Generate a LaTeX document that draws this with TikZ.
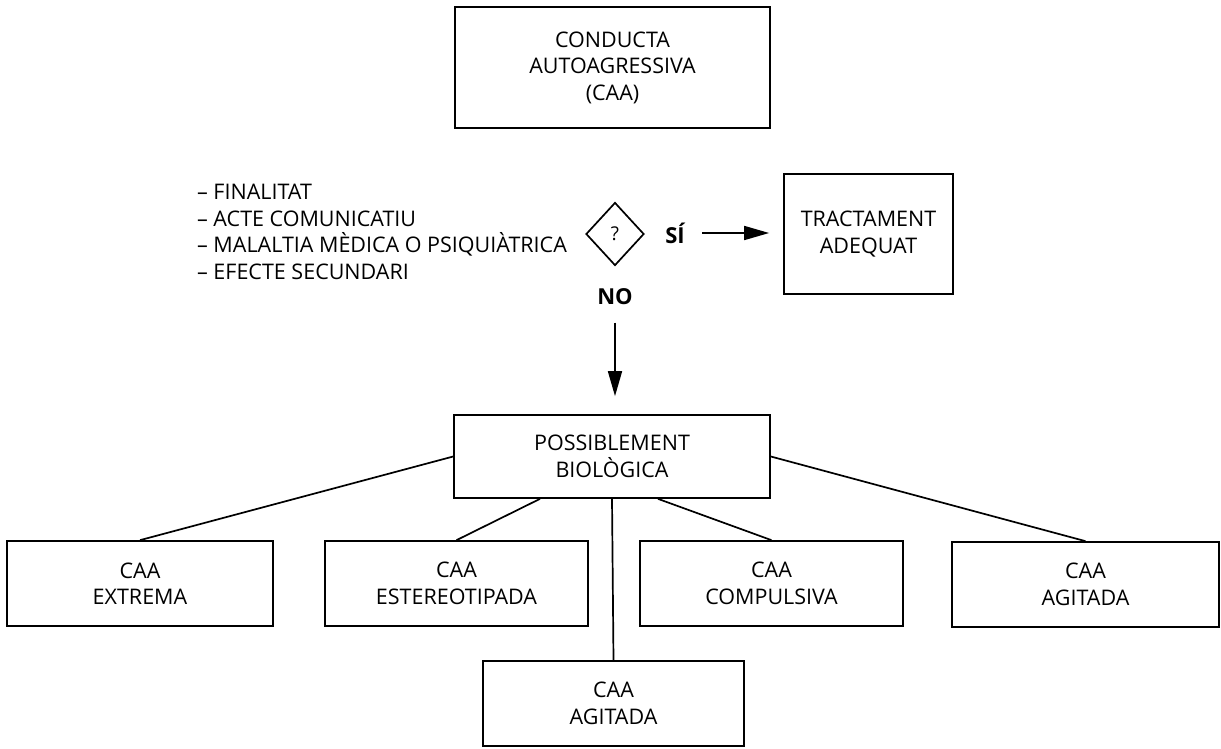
\documentclass[tikz,border=0pt]{standalone}
\usepackage{fontspec}
\setmainfont{Open Sans}
\usetikzlibrary{shapes.geometric,arrows.meta,calc}
\begin{document}
\begin{tikzpicture}[x=1pt,y=-1pt,
  txt/.style={font=\fontsize{21.5}{26.5}\selectfont},
  box/.style={draw, line width=1.7pt, inner sep=0pt, align=center, txt},
  link/.style={line width=1.7pt},
  arr/.style={line width=1.7pt, -{Triangle[length=25pt,width=14pt]}},
  answer/.style={font=\fontsize{22}{26}\selectfont\bfseries},
]
\useasboundingbox (0,0) rectangle (1221,748);

% top level
\node[box, minimum width=315pt, minimum height=121pt] (top) at (612.5,67.5)
  {CONDUCTA\\AUTOAGRESSIVA\\(CAA)};

% criteria and decision
\node[txt, align=left, anchor=east, inner sep=0pt] (list) at (567,232)
  {-- FINALITAT\\-- ACTE COMUNICATIU\\-- MALALTIA MÈDICA O PSIQUIÀTRICA\\-- EFECTE SECUNDARI};
\node[draw, diamond, line width=1.7pt, inner sep=0pt, minimum width=58pt,
      minimum height=63pt, font=\fontsize{19}{20}\selectfont] (q) at (615,234) {?};
\node[answer] (si) at (675,233) {SÍ};
\node[answer] (no) at (615,297) {NO};
\node[box, minimum width=169pt, minimum height=120pt] (trac) at (868.5,234)
  {TRACTAMENT\\ADEQUAT};

\draw[arr, shorten <=14pt, shorten >=14pt] (si.east) -- (si.east -| trac.west);

% biological branch
\node[box, minimum width=316pt, minimum height=83pt] (poss) at (612,456.5)
  {POSSIBLEMENT\\BIOLÒGICA};
\draw[arr, shorten <=14pt, shorten >=18pt] (no.south) -- (no.south |- poss.north);

\node[box, minimum width=266pt, minimum height=85pt] (ext) at (140,583.5) {CAA\\EXTREMA};
\node[box, minimum width=263pt, minimum height=85pt] (est) at (456.5,583.5) {CAA\\ESTEREOTIPADA};
\node[box, minimum width=263pt, minimum height=85pt] (comp) at (771.5,583.5) {CAA\\COMPULSIVA};
\node[box, minimum width=267pt, minimum height=85pt] (agr) at (1085.5,584.5) {CAA\\AGITADA};
\node[box, minimum width=261pt, minimum height=85pt] (bot) at (613.5,703.5) {CAA\\AGITADA};

\draw[link] (poss.west) -- (ext.north);
\draw[link] ($(poss.south)+(-72,0)$) -- (est.north);
\draw[link] (poss.south) -- (bot.north);
\draw[link] ($(poss.south)+(46,0)$) -- (comp.north);
\draw[link] (poss.east) -- (agr.north);
\end{tikzpicture}
\end{document}
